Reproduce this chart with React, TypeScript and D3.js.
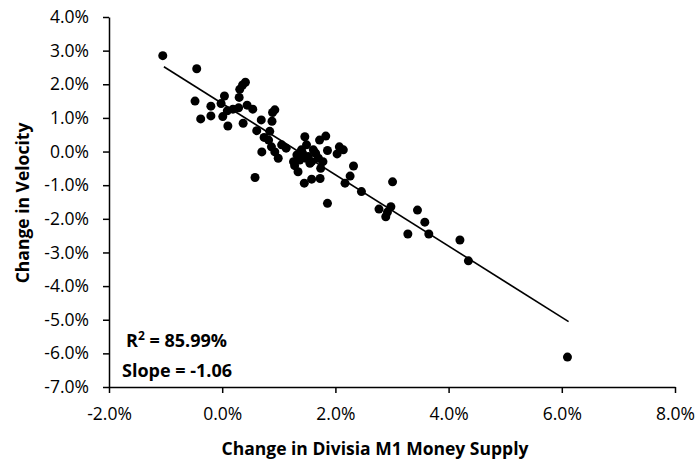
import React, { useEffect, useRef } from 'react';
import * as d3 from 'd3';

// change in Divisia M1 money supply (%)
const moneyChange = [
  -1.05, -0.45, -0.48, -0.38, -0.20, -0.20, -0.02, 0.04, 0.01, 0.10,
  0.09, 0.19, 0.29, 0.31, 0.41, 0.36, 0.30, 0.37, 0.44, 0.54,
  0.69, 0.61, 0.89, 0.93, 0.88, 0.74, 0.82, 0.87, 0.70, 0.93,
  0.84, 0.99, 1.05, 1.13, 0.58, 1.46, 1.72, 1.83, 1.49, 1.61,
  1.86, 1.32, 1.37, 1.26, 1.48, 1.58, 1.70, 1.34, 1.55, 1.74,
  1.73, 1.58, 1.45, 2.07, 2.14, 2.03, 2.32, 2.26, 2.17, 2.46,
  1.86, 2.77, 2.89, 2.98, 2.92, 3.01, 3.45, 3.58, 3.65, 3.28,
  4.20, 4.35, 6.10, 1.28, 1.42, 1.52, 1.65, 1.40, 1.78,
];
// change in velocity (%)
const velocityChange = [
  2.85, 2.46, 1.50, 0.97, 1.35, 1.06, 1.43, 1.65, 1.04, 0.76,
  1.21, 1.26, 1.30, 1.85, 2.06, 1.98, 1.61, 0.84, 1.38, 1.26,
  0.94, 0.62, 1.16, 1.24, 0.90, 0.42, 0.34, 0.14, -0.01, -0.01,
  0.60, -0.20, 0.20, 0.10, -0.77, 0.44, 0.34, 0.46, 0.20, 0.05,
  0.03, -0.10, -0.25, -0.30, -0.20, -0.30, -0.20, -0.60, -0.35, -0.50,
  -0.80, -0.82, -0.94, 0.14, 0.05, -0.07, -0.43, -0.73, -0.94, -1.19,
  -1.54, -1.71, -1.94, -1.64, -1.80, -0.90, -1.74, -2.10, -2.45, -2.45,
  -2.63, -3.25, -6.11, -0.42, -0.05, -0.15, -0.05, 0.05, -0.30,
];

const xTicks = [-2, 0, 2, 4, 6, 8];
const yTicks = [4, 3, 2, 1, 0, -1, -2, -3, -4, -5, -6, -7];

// fitted trend line
const slope = -1.06;
const intercept = 1.43;
const rSquared = '85.99%';

const W = 698;
const H = 461;
const font = '"Open Sans", sans-serif';

export default function App() {
  const ref = useRef<SVGSVGElement>(null);

  useEffect(() => {
    const svg = d3.select(ref.current);
    svg.selectAll('*').remove();

    const x = d3.scaleLinear().domain([-2, 8]).range([109, 675]);
    const y = d3.scaleLinear().domain([-7, 4]).range([387, 17]);
    const fmt = (d: number) => d.toFixed(1) + '%';

    // y axis
    const yAxis = svg.append('g')
      .attr('transform', `translate(${x(-2)},0)`)
      .call(d3.axisLeft(y).tickValues(yTicks).tickFormat(fmt as any).tickSize(6).tickSizeOuter(0).tickPadding(14));
    // x axis
    const xAxis = svg.append('g')
      .attr('transform', `translate(0,${y(-7)})`)
      .call(d3.axisBottom(x).tickValues(xTicks).tickFormat(fmt as any).tickSize(6).tickSizeOuter(0).tickPadding(15));

    [yAxis, xAxis].forEach(g => {
      g.selectAll('path, line').attr('stroke', '#000').attr('stroke-width', 1.5);
      g.selectAll('text')
        .attr('fill', '#000')
        .style('font-family', font)
        .style('font-size', '17.5px');
    });

    // trend line
    const [x0, x1] = d3.extent(moneyChange) as [number, number];
    svg.append('line')
      .attr('x1', x(x0 + 0.02)).attr('y1', y(intercept + slope * (x0 + 0.02)))
      .attr('x2', x(x1 + 0.02)).attr('y2', y(intercept + slope * (x1 + 0.02)))
      .attr('stroke', '#000')
      .attr('stroke-width', 1.6);

    // points
    svg.append('g')
      .selectAll('circle')
      .data(moneyChange)
      .enter()
      .append('circle')
        .attr('cx', d => x(d))
        .attr('cy', (d, i) => y(velocityChange[i]))
        .attr('r', 4.5)
        .attr('fill', '#000');

    // axis titles
    svg.append('text')
      .attr('x', 375).attr('y', 455)
      .attr('text-anchor', 'middle')
      .style('font-family', font).style('font-size', '17.5px').style('font-weight', 'bold')
      .text('Change in Divisia M1 Money Supply');

    svg.append('text')
      .attr('transform', 'translate(29,203) rotate(-90)')
      .attr('text-anchor', 'middle')
      .style('font-family', font).style('font-size', '17.5px').style('font-weight', 'bold')
      .text('Change in Velocity');

    // annotations
    const r2 = svg.append('text')
      .attr('x', 126).attr('y', 347)
      .style('font-family', font).style('font-size', '18px').style('font-weight', 'bold');
    r2.append('tspan').text('R');
    r2.append('tspan').attr('dy', -7).style('font-size', '12px').text('2');
    r2.append('tspan').attr('dy', 7).text(' = ' + rSquared);

    svg.append('text')
      .attr('x', 122).attr('y', 377)
      .style('font-family', font).style('font-size', '18px').style('font-weight', 'bold')
      .text('Slope = ' + slope.toFixed(2));
  });

  return (
    <svg ref={ref} width={W} height={H}
      style={{ position: 'absolute', left: 0, top: 0, background: '#fff' }}>
    </svg>
  );
}
